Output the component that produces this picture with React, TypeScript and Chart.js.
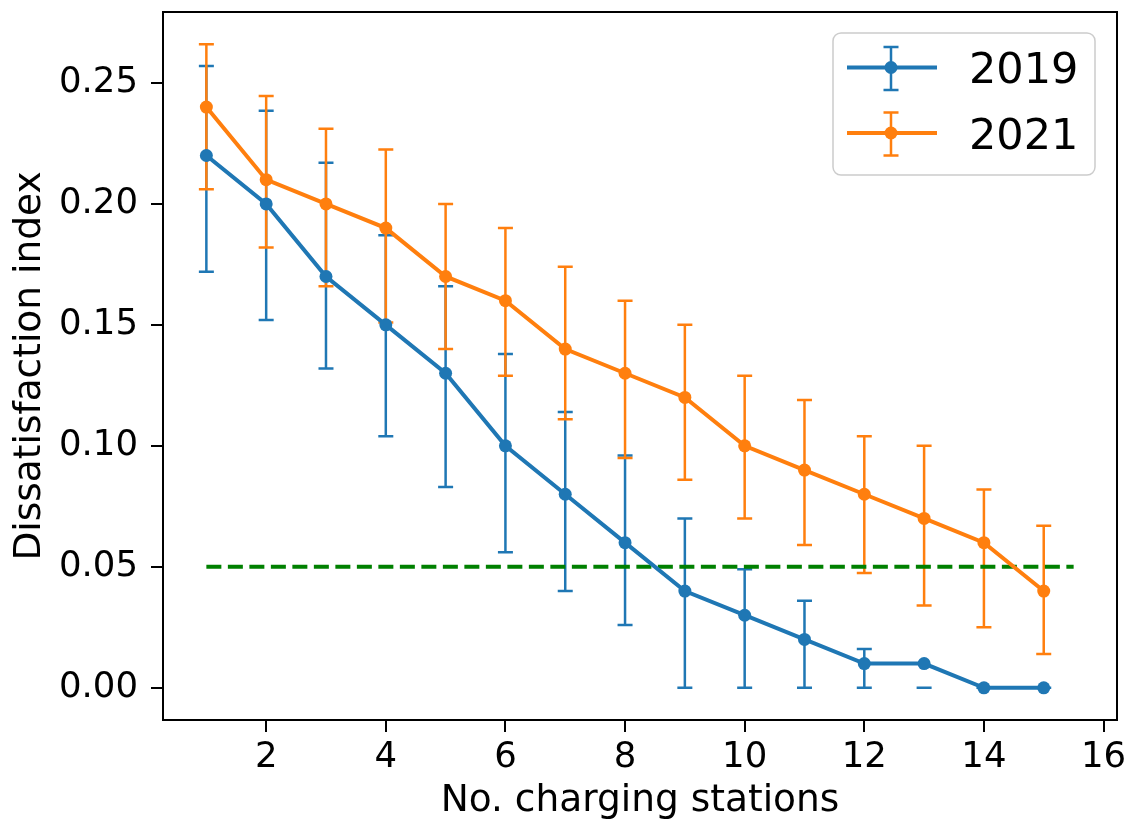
import React, { useEffect, useRef } from "react";
import { Chart, registerables } from "chart.js";

Chart.register(...registerables);

const stations = [1, 2, 3, 4, 5, 6, 7, 8, 9, 10, 11, 12, 13, 14, 15];

const values2019 = [0.22, 0.2, 0.17, 0.15, 0.13, 0.1, 0.08, 0.06, 0.04, 0.03, 0.02, 0.01, 0.01, 0.0, 0.0];
const lower2019 = [0.172, 0.152, 0.132, 0.104, 0.083, 0.056, 0.04, 0.026, 0.0, 0.0, 0.0, 0.0, 0.0, 0.0, 0.0];
const upper2019 = [0.257, 0.2385, 0.217, 0.187, 0.166, 0.138, 0.114, 0.096, 0.07, 0.049, 0.036, 0.016, 0.0, 0.0, 0.0];

const values2021 = [0.24, 0.21, 0.2, 0.19, 0.17, 0.16, 0.14, 0.13, 0.12, 0.1, 0.09, 0.08, 0.07, 0.06, 0.04];
const lower2021 = [0.206, 0.182, 0.166, 0.151, 0.14, 0.129, 0.111, 0.095, 0.086, 0.07, 0.059, 0.0475, 0.034, 0.025, 0.014];
const upper2021 = [0.266, 0.2446, 0.231, 0.2225, 0.2, 0.19, 0.174, 0.16, 0.15, 0.129, 0.119, 0.104, 0.1, 0.082, 0.067];

const thresholdX = [1, 15.5];
const thresholdValue = 0.05;

const xTicks = [2, 4, 6, 8, 10, 12, 14, 16];
const yTicks = [0, 0.05, 0.1, 0.15, 0.2, 0.25];

const seriesLabels = ["2019", "2021"];
const BLUE = "#1f77b4";
const ORANGE = "#ff7f0e";
const GREEN = "#008000";
const FONT = "'DejaVu Sans', sans-serif";

const errorSets = [
  { lo: lower2019, hi: upper2019, color: BLUE },
  { lo: lower2021, hi: upper2021, color: ORANGE },
];

export default function App() {
  const ref = useRef<HTMLCanvasElement | null>(null);

  useEffect(() => {
    document.body.style.margin = "0";
    const canvas = ref.current;
    if (!canvas) return;

    const errorBarPlugin = {
      id: "errorBars",
      beforeDatasetsDraw(chart: any) {
        const { ctx, chartArea } = chart;
        const xs = chart.scales.x;
        const ys = chart.scales.y;
        ctx.save();
        ctx.beginPath();
        ctx.rect(chartArea.left, chartArea.top, chartArea.right - chartArea.left, chartArea.bottom - chartArea.top);
        ctx.clip();
        ctx.lineWidth = 2.5;
        errorSets.forEach((s) => {
          ctx.strokeStyle = s.color;
          stations.forEach((xv, i) => {
            const px = xs.getPixelForValue(xv);
            const pLo = ys.getPixelForValue(s.lo[i]);
            const pHi = ys.getPixelForValue(s.hi[i]);
            ctx.beginPath();
            ctx.moveTo(px, pLo);
            ctx.lineTo(px, pHi);
            ctx.moveTo(px - 7.5, pLo);
            ctx.lineTo(px + 7.5, pLo);
            ctx.moveTo(px - 7.5, pHi);
            ctx.lineTo(px + 7.5, pHi);
            ctx.stroke();
          });
        });
        ctx.restore();
      },
    };

    const framePlugin = {
      id: "frameAndLegend",
      afterDraw(chart: any) {
        const { ctx, chartArea } = chart;
        ctx.save();
        ctx.strokeStyle = "#000";
        ctx.lineWidth = 2;
        ctx.strokeRect(chartArea.left, chartArea.top, chartArea.right - chartArea.left, chartArea.bottom - chartArea.top);

        // legend box
        const bx = 833, by = 33, bw = 262, bh = 142, r = 8;
        ctx.beginPath();
        ctx.moveTo(bx + r, by);
        ctx.arcTo(bx + bw, by, bx + bw, by + bh, r);
        ctx.arcTo(bx + bw, by + bh, bx, by + bh, r);
        ctx.arcTo(bx, by + bh, bx, by, r);
        ctx.arcTo(bx, by, bx + bw, by, r);
        ctx.closePath();
        ctx.fillStyle = "rgba(255,255,255,0.8)";
        ctx.fill();
        ctx.strokeStyle = "#cccccc";
        ctx.lineWidth = 1.5;
        ctx.stroke();

        const rows = [
          { y: 67.5, top: 47, bottom: 90, color: BLUE, text: seriesLabels[0], base: 83 },
          { y: 133, top: 112.5, bottom: 155.5, color: ORANGE, text: seriesLabels[1], base: 149 },
        ];
        rows.forEach((row) => {
          ctx.strokeStyle = row.color;
          ctx.lineWidth = 2.5;
          ctx.beginPath();
          ctx.moveTo(891, row.top);
          ctx.lineTo(891, row.bottom);
          ctx.moveTo(883.5, row.top);
          ctx.lineTo(898.5, row.top);
          ctx.moveTo(883.5, row.bottom);
          ctx.lineTo(898.5, row.bottom);
          ctx.stroke();
          ctx.lineWidth = 4;
          ctx.beginPath();
          ctx.moveTo(847, row.y);
          ctx.lineTo(937, row.y);
          ctx.stroke();
          ctx.fillStyle = row.color;
          ctx.beginPath();
          ctx.arc(891, row.y, 6.5, 0, Math.PI * 2);
          ctx.fill();
          ctx.fillStyle = "#000";
          ctx.font = `43px ${FONT}`;
          ctx.textBaseline = "alphabetic";
          ctx.textAlign = "left";
          ctx.fillText(row.text, 969, row.base);
        });
        ctx.restore();
      },
    };

    const chart = new Chart(canvas, {
      type: "line",
      data: {
        datasets: [
          {
            label: seriesLabels[0],
            data: stations.map((x, i) => ({ x, y: values2019[i] })),
            borderColor: BLUE,
            backgroundColor: BLUE,
            borderWidth: 4,
            pointRadius: 6.5,
            pointBorderWidth: 0,
            pointBackgroundColor: BLUE,
            order: 2,
          },
          {
            label: seriesLabels[1],
            data: stations.map((x, i) => ({ x, y: values2021[i] })),
            borderColor: ORANGE,
            backgroundColor: ORANGE,
            borderWidth: 4,
            pointRadius: 6.5,
            pointBorderWidth: 0,
            pointBackgroundColor: ORANGE,
            order: 1,
          },
          {
            label: "threshold",
            data: thresholdX.map((x) => ({ x, y: thresholdValue })),
            borderColor: GREEN,
            borderWidth: 4,
            borderDash: [15, 6.5],
            pointRadius: 0,
            order: 3,
          },
        ],
      },
      options: {
        animation: false,
        responsive: false,
        devicePixelRatio: 1,
        layout: { padding: { top: 12, right: 14, left: 0, bottom: 0 } },
        plugins: { legend: { display: false }, tooltip: { enabled: false } },
        scales: {
          x: {
            type: "linear",
            min: 0.275,
            max: 16.225,
            afterFit: (s: any) => {
              s.height = 104;
              s.paddingLeft = 0;
              s.paddingRight = 0;
            },
            afterBuildTicks: (s: any) => {
              s.ticks = xTicks.map((v) => ({ value: v }));
            },
            grid: { drawOnChartArea: false, drawTicks: true, tickLength: 12, color: "#000", lineWidth: 2 },
            border: { display: false },
            ticks: {
              color: "#000",
              font: { family: FONT, size: 35.5 },
              padding: 4,
              maxRotation: 0,
              autoSkip: false,
              callback: (v: any) => String(v),
            },
            title: {
              display: true,
              text: "No. charging stations",
              color: "#000",
              font: { family: FONT, size: 37.5 },
              padding: { top: 5, bottom: 0 },
            },
          },
          y: {
            type: "linear",
            min: -0.0133,
            max: 0.2793,
            afterFit: (s: any) => {
              s.width = 163;
              s.paddingTop = 0;
              s.paddingBottom = 0;
            },
            afterBuildTicks: (s: any) => {
              s.ticks = yTicks.map((v) => ({ value: v }));
            },
            grid: { drawOnChartArea: false, drawTicks: true, tickLength: 12, color: "#000", lineWidth: 2 },
            border: { display: false },
            ticks: {
              color: "#000",
              font: { family: FONT, size: 35.5 },
              padding: 13,
              autoSkip: false,
              callback: (v: any) => Number(v).toFixed(2),
            },
            title: {
              display: true,
              text: "Dissatisfaction index",
              color: "#000",
              font: { family: FONT, size: 37.5 },
              padding: { top: 8, bottom: 0 },
            },
          },
        },
      },
      plugins: [errorBarPlugin, framePlugin],
    } as any);

    return () => chart.destroy();
  }, []);

  return (
    <div style={{ width: 1131, height: 824 }}>
      <canvas ref={ref} width={1131} height={824} style={{ display: "block", width: 1131, height: 824 }} />
    </div>
  );
}
